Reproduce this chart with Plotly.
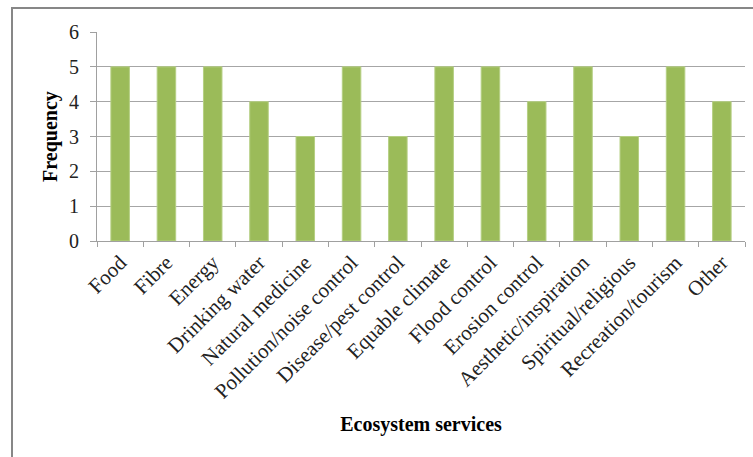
import plotly.graph_objects as go

categories = ["Food", "Fibre", "Energy", "Drinking water", "Natural medicine",
              "Pollution/noise control", "Disease/pest control", "Equable climate",
              "Flood control", "Erosion control", "Aesthetic/inspiration",
              "Spiritual/religious", "Recreation/tourism", "Other"]
frequency = [5, 5, 5, 4, 3, 5, 3, 5, 5, 4, 5, 3, 5, 4]
y_ticks = [0, 1, 2, 3, 4, 5, 6]

W, H = 753, 457
L, R, T, B = 97, 8, 32, 216
pw, ph = W - L - R, H - T - B

fig = go.Figure(go.Bar(
    x=categories, y=frequency,
    marker=dict(color="#9BBB59", line=dict(color="#B5CF83", width=1)),
))

font = "Liberation Serif"
fig.update_layout(
    width=W, height=H,
    margin=dict(l=L, r=R, t=T, b=B, pad=0),
    paper_bgcolor="white", plot_bgcolor="white",
    bargap=0.6,
    showlegend=False,
    font=dict(family=font, color="black"),
    xaxis=dict(
        type="category", tickson="boundaries", ticks="outside", ticklen=5,
        tickcolor="#A0A0A0", showline=True, linecolor="#A0A0A0", linewidth=1,
        showgrid=False, tickangle=-45, tickfont=dict(size=21, family=font, color="#222"),
        title=dict(text="<b>Ecosystem services</b>", font=dict(size=20, family=font), standoff=14),
    ),
    yaxis=dict(
        range=[0, 6], tickvals=y_ticks, ticks="outside", ticklen=6,
        tickcolor="#A0A0A0", showline=True, linecolor="#A0A0A0", linewidth=1,
        showgrid=True, gridcolor="#A6A6A6", gridwidth=1, zeroline=False,
        tickfont=dict(size=20, family=font, color="#222"),
        ticklabelstandoff=7,
        title=dict(text="<b>Frequency</b>", font=dict(size=20, family=font), standoff=6),
    ),
    shapes=[dict(
        type="rect", xref="paper", yref="paper",
        x0=(12 - L) / pw, x1=(W + 20 - L) / pw,
        y0=(H - B - (H + 20)) / ph, y1=(H - B - 8) / ph,
        line=dict(color="#878787", width=2), fillcolor="rgba(0,0,0,0)", layer="above",
    )],
)

fig.write_html("out.html")
